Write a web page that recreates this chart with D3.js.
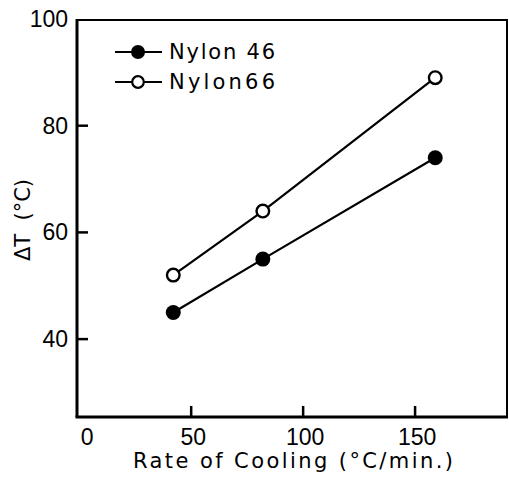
<!DOCTYPE html>
<html>
<head>
<meta charset="utf-8">
<script src="https://cdn.jsdelivr.net/npm/d3@7"></script>
<style>
html,body{margin:0;padding:0;background:#fff;}
svg{display:block;}
</style>
</head>
<body>
<script>
// Data
const rates = [42, 82, 159];
const nylon46 = [45, 55, 74];
const nylon66 = [52, 64, 89];
const seriesNames = ["Nylon 46", "Nylon66"];
const xTickValues = [0, 50, 100, 150];
const yTickValues = [40, 60, 80, 100];
const xTitle = "Rate of Cooling (°C/min.)";
const yTitle = "ΔT  (°C)";

const W = 509, H = 480;
const svg = d3.select("body").append("svg").attr("width", W).attr("height", H);

const x = d3.scaleLinear().domain([-1, 191.5]).range([77, 508]);
const y = d3.scaleLinear().domain([25.4, 100]).range([417, 19]);

const font = "'Liberation Sans', Arial, sans-serif";
const font2 = "'DejaVu Sans', sans-serif";

// frame
const [x0, x1] = x.range();
const [y0, y1] = y.range();
svg.append("line").attr("x1", x0).attr("x2", x0).attr("y1", y1).attr("y2", y0).attr("stroke", "#000").attr("stroke-width", 3);
svg.append("line").attr("x1", x0 - 1.5).attr("x2", x1).attr("y1", y0).attr("y2", y0).attr("stroke", "#000").attr("stroke-width", 3);
svg.append("line").attr("x1", x0).attr("x2", x1).attr("y1", y1 + 1).attr("y2", y1 + 1).attr("stroke", "#000").attr("stroke-width", 2);
svg.append("line").attr("x1", x1 - 1).attr("x2", x1 - 1).attr("y1", y1).attr("y2", y0).attr("stroke", "#000").attr("stroke-width", 2);

// x ticks (inside) and labels
svg.append("g").selectAll("line").data(xTickValues.filter(d => d > 0)).join("line")
  .attr("x1", d => x(d)).attr("x2", d => x(d)).attr("y1", y0).attr("y2", y0 - 11)
  .attr("stroke", "#000").attr("stroke-width", 2.5);
svg.append("g").selectAll("text").data(xTickValues).join("text")
  .attr("x", d => x(d) + (d === 0 ? 8 : 2)).attr("y", 445)
  .attr("text-anchor", "middle").attr("font-family", font).attr("font-size", 23)
  .text(d => d);

// y ticks and labels
svg.append("g").selectAll("line").data(yTickValues.filter(d => d < 100)).join("line")
  .attr("x1", x0).attr("x2", x0 + 11).attr("y1", d => y(d)).attr("y2", d => y(d))
  .attr("stroke", "#000").attr("stroke-width", 2.5);
svg.append("g").selectAll("text").data(yTickValues).join("text")
  .attr("x", 68).attr("y", d => y(d) + 8)
  .attr("text-anchor", "end").attr("font-family", font).attr("font-size", 23)
  .text(d => d);

// titles
svg.append("text").attr("x", 133).attr("y", 468).attr("font-family", font2).attr("font-size", 21)
  .attr("textLength", 320).attr("lengthAdjust", "spacing").text(xTitle);
svg.append("text").attr("transform", "translate(30,220) rotate(-90)").attr("text-anchor", "middle")
  .attr("font-family", font2).attr("font-size", 21).attr("xml:space", "preserve").text(yTitle);

// lines
const line = d3.line().x(d => x(d[0])).y(d => y(d[1]));
const s46 = rates.map((r, i) => [r, nylon46[i]]);
const s66 = rates.map((r, i) => [r, nylon66[i]]);
[s46, s66].forEach(s => {
  svg.append("path").attr("d", line(s)).attr("fill", "none").attr("stroke", "#000").attr("stroke-width", 2.2);
});
svg.append("g").selectAll("circle").data(s46).join("circle")
  .attr("cx", d => x(d[0])).attr("cy", d => y(d[1])).attr("r", 7.5).attr("fill", "#000");
svg.append("g").selectAll("circle").data(s66).join("circle")
  .attr("cx", d => x(d[0])).attr("cy", d => y(d[1])).attr("r", 6.3).attr("fill", "#fff")
  .attr("stroke", "#000").attr("stroke-width", 2.4);

// legend
const legY = [52, 82];
seriesNames.forEach((name, i) => {
  const g = svg.append("g");
  g.append("line").attr("x1", 115).attr("x2", 162).attr("y1", legY[i]).attr("y2", legY[i])
    .attr("stroke", "#000").attr("stroke-width", 2.2);
  if (i === 0) {
    g.append("circle").attr("cx", 138).attr("cy", legY[i]).attr("r", 7).attr("fill", "#000");
  } else {
    g.append("circle").attr("cx", 138).attr("cy", legY[i]).attr("r", 5.8).attr("fill", "#fff")
      .attr("stroke", "#000").attr("stroke-width", 2.2);
  }
  g.append("text").attr("x", 169).attr("y", legY[i] + 7).attr("font-family", font2).attr("font-size", 21)
    .attr("textLength", 106).attr("lengthAdjust", "spacing").text(name);
});
</script>
</body>
</html>
